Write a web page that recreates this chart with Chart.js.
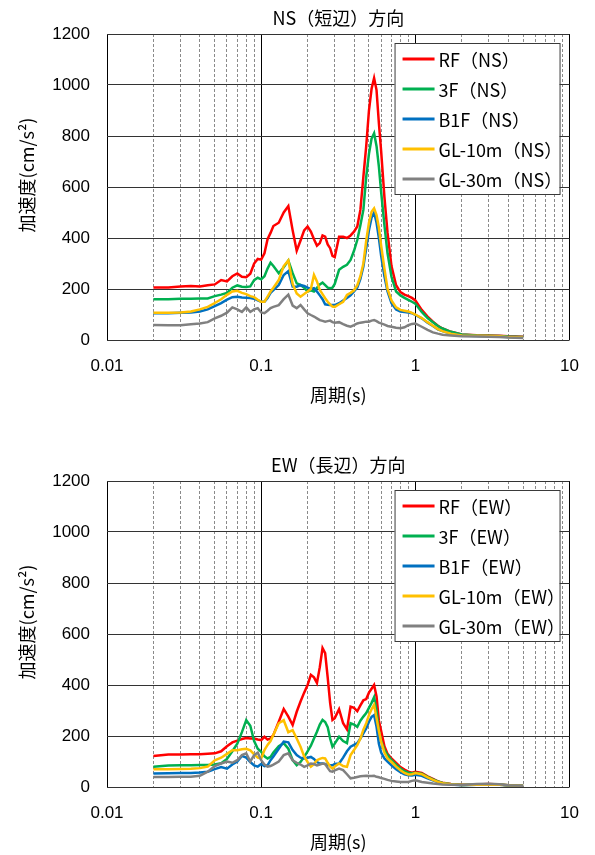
<!DOCTYPE html>
<html><head><meta charset="utf-8">
<script src="https://cdn.jsdelivr.net/npm/chart.js@4/dist/chart.umd.min.js"></script>
<style>
html,body{margin:0;padding:0;background:#fff;width:595px;height:855px;overflow:hidden;position:relative}
canvas{position:absolute;left:0}
</style></head>
<body>
<canvas id="c1" width="595" height="420" style="top:0px"></canvas>
<canvas id="c2" width="595" height="420" style="top:447px"></canvas>
<script>
// ---- data ----
const periods = [0.02,0.025,0.03,0.035,0.04,0.045,0.05,0.055,0.06,0.065,
 0.07,0.075,0.08,0.085,0.09,0.095,0.1,0.105,0.11,0.115,
 0.12,0.13,0.14,0.15,0.16,0.17,0.18,0.19,0.2,0.21,
 0.22,0.23,0.24,0.25,0.26,0.27,0.28,0.29,0.3,0.32,
 0.34,0.36,0.38,0.4,0.42,0.44,0.46,0.48,0.5,0.52,
 0.54,0.56,0.58,0.6,0.63,0.66,0.7,0.75,0.8,0.85,
 0.9,0.95,1.0,1.1,1.2,1.3,1.4,1.5,1.7,2.0,
 2.5,3.0,3.5,4.0,5.0];

const rfNS = [206,206,210,212,210,215,218,235,230,250,
 261,248,246,260,300,318,315,340,395,420,
 447,460,500,525,430,350,390,430,445,425,
 395,370,380,410,405,375,360,330,325,405,
 405,400,410,425,445,510,640,760,900,985,
 1027,980,850,740,560,420,290,215,188,178,
 172,165,155,118,92,72,56,45,32,22,
 19,18,17,15,13];
const f3NS = [160,160,162,162,163,163,172,178,185,205,
 214,209,208,210,235,244,238,250,280,303,
 290,262,285,312,262,222,216,205,190,195,
 190,205,218,225,215,205,203,205,220,275,
 287,295,314,350,392,450,510,640,730,790,
 811,760,680,580,450,340,248,190,175,165,
 157,150,142,110,86,70,55,45,32,22,
 18,17,16,14,12];
const b1fNS = [105,105,107,108,112,120,133,145,158,168,
 170,167,166,165,162,155,150,150,165,185,
 196,216,255,270,210,209,215,212,205,200,
 203,190,175,160,140,138,137,137,137,144,
 155,165,175,190,205,240,288,360,430,480,
 500,460,400,330,250,190,144,120,112,110,
 108,105,98,85,68,55,42,35,25,18,
 16,15,14,12,10];
const gl10NS = [107,107,108,112,120,130,145,160,177,190,
 193,185,180,172,168,158,150,150,170,190,
 205,235,290,312,220,182,170,180,190,200,
 255,230,196,180,164,150,140,131,130,140,
 150,177,185,195,215,250,300,390,460,503,
 516,490,440,370,280,200,155,128,118,115,
 112,106,100,86,70,56,43,35,25,18,
 17,16,15,12,10];
const gl30NS = [59,58,58,62,65,70,85,95,107,128,
 120,110,128,110,120,125,108,105,115,125,
 130,137,160,178,135,125,137,120,105,98,
 92,85,78,75,72,74,76,70,68,70,
 62,56,52,58,65,68,70,72,72,76,
 78,74,68,65,60,55,52,48,46,50,
 58,63,65,52,40,30,25,21,18,15,
 14,13,12,10,8];

const rfEW = [122,127,127,128,128,130,132,140,160,175,
 182,188,192,190,190,186,184,197,186,190,
 204,256,306,276,243,295,335,370,400,440,
 430,408,470,545,525,430,330,263,270,305,
 250,226,315,310,297,320,340,345,370,385,
 400,355,260,220,160,130,112,95,78,68,
 60,56,60,55,42,32,22,17,12,9,
 10,12,10,7,5];
const f3EW = [79,84,85,85,86,86,88,93,110,140,
 170,215,262,240,180,150,138,120,112,118,
 135,160,172,150,105,85,98,118,140,162,
 190,217,245,263,255,235,190,158,170,197,
 180,172,250,245,236,260,276,290,310,330,
 352,300,220,180,146,125,105,88,72,62,
 56,54,56,52,40,30,22,16,11,8,
 10,11,10,7,5];
const b1fEW = [53,54,55,55,57,60,70,78,72,88,
 100,122,115,98,85,80,90,82,85,105,
 120,150,178,175,145,125,115,112,115,118,
 110,98,92,92,90,86,85,85,90,92,
 115,140,158,165,172,190,210,230,256,275,
 282,236,170,135,112,100,85,70,58,50,
 46,45,48,44,34,26,19,14,10,7,
 9,10,9,6,5];
const gl10EW = [70,70,71,72,74,80,105,115,130,144,
 144,148,150,144,128,115,112,145,165,180,
 205,250,262,215,223,190,158,120,98,80,
 90,105,110,114,112,95,80,72,80,92,
 82,79,125,145,164,190,225,250,282,305,
 322,270,220,177,135,112,98,80,66,55,
 49,50,55,50,38,28,20,15,11,8,
 9,10,9,7,5];
const gl30EW = [39,39,40,40,44,60,82,92,100,95,
 105,125,132,100,125,135,105,88,80,82,
 88,100,125,132,105,95,88,79,85,92,
 90,85,88,92,90,75,62,60,65,72,
 66,50,34,36,39,42,43,44,43,43,
 44,40,38,35,32,28,24,22,20,20,
 20,24,26,20,17,14,12,10,9,8,
 12,13,11,7,5];

const labelsNS = ['RF（NS）','3F（NS）','B1F（NS）','GL-10m（NS）','GL-30m（NS）'];
const labelsEW = ['RF（EW）','3F（EW）','B1F（EW）','GL-10m（EW）','GL-30m（EW）'];
const seriesColors = ['#FF0000','#00B050','#0070C0','#FFC000','#808080'];
const titleNS = 'NS（短辺）方向';
const titleEW = 'EW（長辺）方向';
const xAxisTitle = '周期(s)';
const yAxisTitle = '加速度(cm/s²)';
const xMajorTicks = [0.01, 0.1, 1, 10];
const xTickLabels = ['0.01', '0.1', '1', '10'];
const yMin = 0, yMax = 1200, yStep = 200;

// ---- helpers ----
const CJK = '"Noto Sans CJK JP", "Noto Sans CJK SC", sans-serif';
const NUM = '"Liberation Sans", Arial, sans-serif';

function isMajor(v){ return xMajorTicks.some(m => Math.abs(v/m - 1) < 1e-6); }
function allXTicks(){
  const t = [];
  for (let d = 0; d < xMajorTicks.length - 1; d++) {
    for (let m = 1; m <= 9; m++) t.push(Number((xMajorTicks[d]*m).toPrecision(4)));
  }
  t.push(xMajorTicks[xMajorTicks.length-1]);
  return t;
}

const legendBox = {
  id: 'legendBox',
  afterDatasetsDraw(chart){
    const {ctx, chartArea: a} = chart;
    const x0 = a.right - 175, y0 = a.top + 9, w = 165, h = 151;
    ctx.save();
    ctx.fillStyle = '#fff';
    ctx.fillRect(x0, y0, w, h);
    ctx.strokeStyle = '#3a3a3a';
    ctx.lineWidth = 1;
    ctx.strokeRect(x0 + 0.5, y0 + 0.5, w, h);
    chart.data.datasets.forEach((ds, i) => {
      const y = y0 + 16 + i * 30;
      ctx.strokeStyle = ds.borderColor;
      ctx.lineWidth = 3;
      ctx.beginPath(); ctx.moveTo(x0 + 8, y); ctx.lineTo(x0 + 40, y); ctx.stroke();
      ctx.fillStyle = '#000';
      ctx.font = '18px ' + CJK;
      ctx.textAlign = 'left';
      ctx.textBaseline = 'middle';
      ctx.fillText(ds.label, x0 + 44, y + 1);
    });
    ctx.restore();
  }
};

const textPlugin = {
  id: 'textPlugin',
  afterDraw(chart, args, opts){
    const {ctx, chartArea: a} = chart;
    ctx.save();
    ctx.fillStyle = '#000';
    ctx.font = '18px ' + CJK;
    ctx.textAlign = 'center';
    ctx.textBaseline = 'middle';
    ctx.fillText(opts.title, (a.left + a.right) / 2, a.top - 16);
    ctx.translate(27, (a.top + a.bottom) / 2 - 12);
    ctx.rotate(-Math.PI / 2);
    ctx.fillText(yAxisTitle, 0, 0);
    ctx.restore();
  }
};

function makeChart(id, title, labels, series){
  const datasets = series.map((arr, i) => ({
    label: labels[i],
    data: periods.map((p, k) => ({x: p, y: arr[k]})),
    borderColor: seriesColors[i],
    backgroundColor: seriesColors[i],
    borderWidth: 2.5,
    pointRadius: 0,
    tension: 0,
    fill: false,
    order: series.length - 1 - i
  }));
  return new Chart(document.getElementById(id), {
    type: 'line',
    data: { datasets },
    plugins: [legendBox, textPlugin],
    options: {
      responsive: false,
      animation: false,
      devicePixelRatio: 1,
      layout: { padding: { left: 0, right: 22, top: 34, bottom: 0 } },
      plugins: {
        legend: { display: false },
        tooltip: { enabled: false },
        title: { display: false },
        textPlugin: { title: title }
      },
      scales: {
        x: {
          type: 'logarithmic',
          min: xMajorTicks[0], max: xMajorTicks[xMajorTicks.length-1],
          afterBuildTicks(s){ s.ticks = allXTicks().map(v => ({value: v})); },
          afterFit(s){ s.height = 80; },
          ticks: {
            autoSkip: false, maxRotation: 0, minRotation: 0,
            padding: 16, color: '#000',
            font: { family: NUM, size: 17 },
            callback(v){ const i = xMajorTicks.findIndex(m => Math.abs(v/m - 1) < 1e-6); return i >= 0 ? xTickLabels[i] : ''; }
          },
          grid: {
            drawTicks: false,
            lineWidth: 1,
            color: c => (c.tick && isMajor(c.tick.value)) ? '#000' : '#8a8a8a'
          },
          border: {
            display: false,
            dash: c => (c.tick && !isMajor(c.tick.value)) ? [3, 2] : []
          },
          title: {
            display: true, text: xAxisTitle, color: '#000',
            font: { family: CJK, size: 18, lineHeight: 1.2 },
            padding: { top: 0, bottom: 14.2 }
          }
        },
        y: {
          min: yMin, max: yMax,
          afterFit(s){ s.width = 107; },
          ticks: {
            stepSize: yStep, padding: 17, color: '#000',
            font: { family: NUM, size: 17 },
            callback(v){ return String(v); }
          },
          grid: { drawTicks: false, lineWidth: 1, color: '#333' },
          border: { display: false }
        }
      }
    }
  });
}

makeChart('c1', titleNS, labelsNS, [rfNS, f3NS, b1fNS, gl10NS, gl30NS]);
makeChart('c2', titleEW, labelsEW, [rfEW, f3EW, b1fEW, gl10EW, gl30EW]);
</script>
</body></html>
